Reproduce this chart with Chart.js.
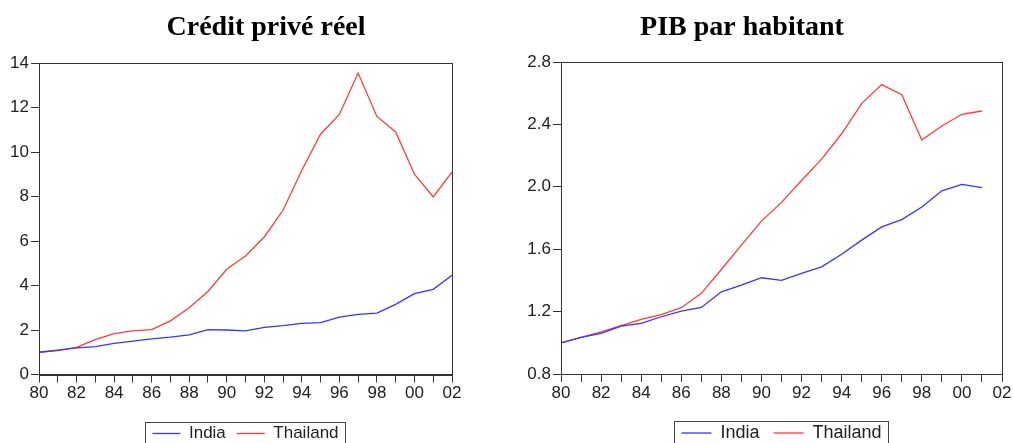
<!DOCTYPE html>
<html>
<head>
<meta charset="utf-8">
<script src="https://cdn.jsdelivr.net/npm/chart.js@4.4.1/dist/chart.umd.min.js"></script>
<style>
  html, body { margin: 0; padding: 0; background: #fff; overflow: hidden; }
  body { width: 1013px; height: 443px; position: relative; }
  canvas { position: absolute; top: 0; }
</style>
</head>
<body>
<canvas id="credit" width="532" height="452" style="left:0px"></canvas>
<canvas id="pib" width="542" height="452" style="left:471px"></canvas>
<script>
// annees 1980-2002
const years = ['80','81','82','83','84','85','86','87','88','89','90','91','92','93','94','95','96','97','98','99','00','01','02']

// Credit prive reel (base 1980 = 1)
const creditIndia = [1.0, 1.1, 1.2, 1.25, 1.4, 1.5, 1.6, 1.68, 1.78, 2.02, 2.0, 1.96, 2.12, 2.2, 2.3, 2.33, 2.58, 2.7, 2.76, 3.15, 3.63, 3.83, 4.46]
const creditThailand = [1.0, 1.07, 1.22, 1.57, 1.84, 1.96, 2.02, 2.41, 3.0, 3.73, 4.73, 5.33, 6.18, 7.38, 9.18, 10.8, 11.69, 13.55, 11.6, 10.9, 9.0, 7.98, 9.1]

// PIB par habitant (base 1980 = 1), s'arrete en 2001
const pibIndia = [1.0, 1.035, 1.06, 1.107, 1.125, 1.167, 1.203, 1.227, 1.327, 1.37, 1.417, 1.40, 1.445, 1.487, 1.568, 1.658, 1.743, 1.79, 1.87, 1.974, 2.015, 1.995]
const pibThailand = [1.0, 1.035, 1.07, 1.11, 1.15, 1.18, 1.225, 1.317, 1.47, 1.626, 1.78, 1.90, 2.04, 2.177, 2.34, 2.533, 2.655, 2.59, 2.30, 2.39, 2.465, 2.486]

const creditTicks = { min: 0, max: 14, step: 2 }
const pibTicks = { min: 0.8, max: 2.8, step: 0.4 }

const blue = '#3535ff'
const red = '#ff3a3a'
const axisColor = '#333'
const tickFont = { family: 'Liberation Sans, Arial, sans-serif', size: 17 }

// cadre autour de la zone du graphique + cadre de la legende
const framePlugin = {
  id: 'frame',
  afterDraw(chart) {
    const ctx = chart.ctx
    const a = chart.chartArea
    ctx.save()
    ctx.strokeStyle = axisColor
    ctx.lineWidth = 1
    ctx.strokeRect(Math.round(a.left) + 0.5, Math.round(a.top) + 0.5, Math.round(a.right - a.left), Math.round(a.bottom - a.top))
    const hb = chart.legend.legendHitBoxes
    if (hb && hb.length) {
      const last = hb[hb.length - 1]
      const l = Math.round(hb[0].left - 7) + 0.5
      const r = Math.round(last.left + last.width + 6) + 0.5
      const t = Math.round(hb[0].top - 3) + 0.5
      ctx.strokeStyle = '#444'
      ctx.strokeRect(l, t, r - l, 60)
    }
    ctx.restore()
  }
}

function makeChart(id, title, india, thailand, yt, leftW, rightW, titlePad, fmt, lg) {
  return new Chart(id, {
    type: 'line',
    data: {
      labels: years,
      datasets: [
        { label: 'India', data: india, borderColor: blue, borderWidth: 1.3, pointRadius: 0, tension: 0, fill: false },
        { label: 'Thailand', data: thailand, borderColor: red, borderWidth: 1.3, pointRadius: 0, tension: 0, fill: false },
      ],
    },
    options: {
      responsive: false,
      animation: false,
      layout: { padding: 0 },
      plugins: {
        title: {
          display: true,
          text: title,
          color: '#000',
          font: { family: 'Liberation Serif, Times New Roman, serif', size: 28, weight: 'bold' },
          padding: titlePad,
        },
        legend: {
          position: 'bottom',
          fullSize: false,
          labels: {
            usePointStyle: true,
            pointStyle: 'line',
            pointStyleWidth: lg.line,
            padding: lg.pad,
            color: '#222',
            font: { family: 'Liberation Sans, Arial, sans-serif', size: lg.size },
          },
        },
        tooltip: { enabled: false },
      },
      scales: {
        x: {
          type: 'category',
          offset: false,
          grid: { drawOnChartArea: false, tickLength: 8, tickColor: axisColor },
          border: { color: axisColor },
          ticks: {
            autoSkip: false,
            maxRotation: 0,
            padding: 1,
            color: '#222',
            font: tickFont,
            callback: (v, i) => (i % 2 === 0 ? years[i] : ''),
          },
          afterFit: (s) => { s.height = lg.xh },
        },
        y: {
          min: yt.min,
          max: yt.max,
          grid: { drawOnChartArea: false, tickLength: 8, tickColor: axisColor },
          border: { color: axisColor },
          ticks: { stepSize: yt.step, padding: 2, color: '#222', font: tickFont, callback: fmt },
          afterFit: (s) => { s.width = leftW },
        },
        yr: {
          position: 'right',
          grid: { display: false },
          border: { display: false },
          ticks: { display: false },
          afterFit: (s) => { s.width = rightW },
        },
      },
    },
    plugins: [framePlugin],
  })
}

makeChart('credit', 'Crédit privé réel', creditIndia, creditThailand, creditTicks, 39, 80,
  { top: 11, bottom: 18.4 }, (v) => String(v), { size: 17, line: 28, pad: 11, xh: 39.5 })
makeChart('pib', 'PIB par habitant', pibIndia, pibThailand, pibTicks, 90, 11,
  { top: 11, bottom: 17.4 }, (v) => v.toFixed(1), { size: 18, line: 30, pad: 14, xh: 36 })
</script>
</body>
</html>
